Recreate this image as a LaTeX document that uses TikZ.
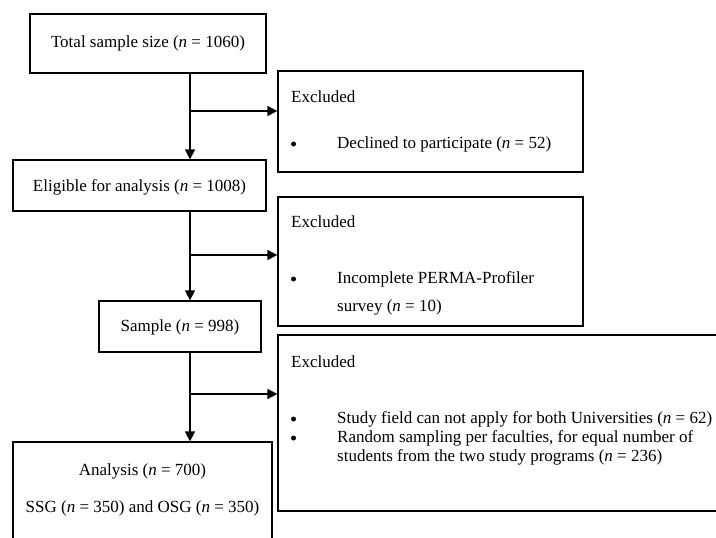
\documentclass[tikz,border=0pt]{standalone}
\usepackage{fontspec}
\setmainfont{Liberation Serif}
\usetikzlibrary{arrows.meta}
\begin{document}
\begin{tikzpicture}[x=1pt,y=-1pt,font=\fontsize{17pt}{20pt}\selectfont]
\tikzset{
 box/.style={draw, line width=1.2pt, inner sep=0pt, align=center},
 txt/.style={inner sep=0pt, anchor=west, text height=0.69em, text depth=0.18em},
 ctxt/.style={inner sep=0pt, text height=0.69em, text depth=0.18em},
 bul/.style={circle, fill, inner sep=0pt, minimum size=5pt},
 arr/.style={line width=1.2pt, -{Triangle[length=10pt,width=10pt]}},
 ln/.style={line width=1.2pt}
}
\useasboundingbox (0,0) rectangle (716,538);
% main boxes
\node[box, minimum width=236pt, minimum height=59pt] (total) at (148,43.5) {};
\node[ctxt] (totalt) at (148,44.5) {Total sample size (\textit{n} = 1060)};
\node[box, minimum width=253pt, minimum height=51pt] (elig) at (139.5,185.5) {};
\node[ctxt] (eligt) at (139.5,188.5) {Eligible for analysis (\textit{n} = 1008)};
\node[box, minimum width=162pt, minimum height=51pt] (sample) at (180,326.5) {};
\node[ctxt] (samplet) at (180,328.5) {Sample (\textit{n} = 998)};
\node[box, minimum width=259pt, minimum height=110pt] (anal) at (142.5,497) {};
\node[ctxt] (analt1) at (142.5,472.5) {Analysis (\textit{n} = 700)};
\node[ctxt] (analt2) at (142.5,509.5) {SSG (\textit{n} = 350) and OSG (\textit{n} = 350)};
% exclusion boxes
\node[box, minimum width=305pt, minimum height=101pt] (ex1) at (430.5,121.5) {};
\node[txt] (ex1h) at (291,99.5) {Excluded};
\node[bul] (ex1b) at (293.5,144) {};
\node[txt] (ex1a) at (337,145.5) {Declined to participate (\textit{n} = 52)};
\node[box, minimum width=305pt, minimum height=129pt] (ex2) at (430.5,261.5) {};
\node[txt] (ex2h) at (291,224.5) {Excluded};
\node[bul] (ex2b) at (293.5,279) {};
\node[txt] (ex2a) at (337,280.5) {Incomplete PERMA-Profiler};
\node[txt] (ex2c) at (337,308.5) {survey (\textit{n} = 10)};
\node[box, minimum width=442pt, minimum height=176pt] (ex3) at (499,423) {};
\node[txt] (ex3h) at (291,364.5) {Excluded};
\node[bul] (ex3b1) at (293.5,419) {};
\node[txt] (ex3a) at (337,420.5) {Study field can not apply for both Universities (\textit{n} = 62)};
\node[bul] (ex3b2) at (293.5,438) {};
\node[txt] (ex3c) at (337,439.5) {Random sampling per faculties, for equal number of};
\node[txt] (ex3d) at (337,458.5) {students from the two study programs (\textit{n} = 236)};
% connectors
\coordinate (j1) at (190,111);
\coordinate (j2) at (190,255);
\coordinate (j3) at (190,394);
\draw[ln] (total.south -| j1) -- (j1);
\draw[arr] (j1) -- (elig.north -| j1);
\draw[arr] (j1) -- (ex1.west |- j1);
\draw[ln] (elig.south -| j2) -- (j2);
\draw[arr] (j2) -- (sample.north -| j2);
\draw[arr] (j2) -- (ex2.west |- j2);
\draw[ln] (sample.south -| j3) -- (j3);
\draw[arr] (j3) -- (anal.north -| j3);
\draw[arr] (j3) -- (ex3.west |- j3);
\end{tikzpicture}
\end{document}
